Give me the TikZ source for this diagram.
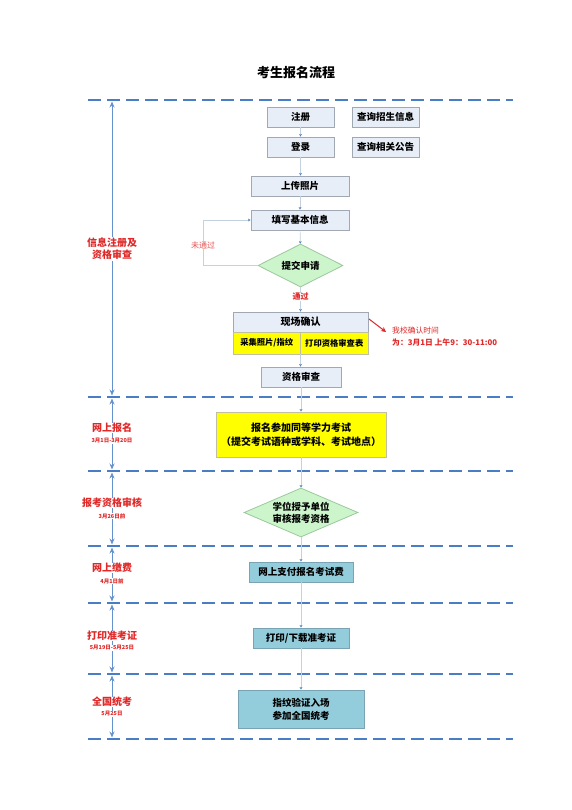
\documentclass[tikz,border=0pt]{standalone}
\usepackage{fontspec}
\setmainfont{Noto Sans CJK SC}
\usetikzlibrary{shapes.geometric,arrows.meta}
\definecolor{boxfill}{HTML}{E8EEF8}
\definecolor{boxdraw}{HTML}{A0A8B4}
\definecolor{diafill}{HTML}{CCF5CC}
\definecolor{diadraw}{HTML}{9CC89C}
\definecolor{ylw}{HTML}{FFFF00}
\definecolor{ylwdraw}{HTML}{C0C0A0}
\definecolor{teal2}{HTML}{93CDDC}
\definecolor{tealdraw}{HTML}{7AA4B4}
\definecolor{dashblue}{HTML}{4A7EC4}
\definecolor{conn}{HTML}{C4D2E0}
\definecolor{connhead}{HTML}{4F81BD}
\definecolor{redtxt}{HTML}{E02828}
\begin{document}
\begin{tikzpicture}[x=1pt,y=-1pt,
  box/.style={draw=boxdraw,fill=boxfill,line width=0.8pt,inner sep=0pt,font=\fontsize{9.5}{11}\selectfont\bfseries,align=center},
  dia/.style={diamond,draw=diadraw,fill=diafill,line width=0.8pt,inner sep=0pt,aspect=2.3,font=\fontsize{9.5}{12}\selectfont\bfseries,align=center},
  ybox/.style={draw=ylwdraw,fill=ylw,line width=0.8pt,inner sep=0pt,align=center},
  tbox/.style={draw=tealdraw,fill=teal2,line width=0.8pt,inner sep=0pt,font=\fontsize{9.5}{13}\selectfont\bfseries,align=center},
  conline/.style={draw=conn,line width=0.7pt,-{Stealth[length=2.6pt,width=2.8pt,color=connhead]}},
  sepline/.style={draw=dashblue,line width=2.2pt,dash pattern=on 13pt off 6pt},
  span/.style={draw=dashblue!85,line width=1pt,{Stealth[length=6pt,width=5pt]}-{Stealth[length=6pt,width=5pt]}},
  seclabel/.style={fill=white,inner sep=1pt,text=redtxt,font=\fontsize{10}{12}\selectfont\bfseries,align=center},
  datelabel/.style={fill=white,inner sep=0.5pt,text=redtxt,font=\fontsize{5.5}{6}\selectfont\bfseries},
]
\useasboundingbox (0,0) rectangle (572,810);
\fill[white] (0,0) rectangle (572,810);

% title
\node[font=\fontsize{13}{15}\selectfont\bfseries] (title) at (296,73) {考生报名流程};

% separator lines
\foreach \n/\y in {a/100,b/397,c/471,d/546,e/603,f/674,g/739}{
  \coordinate (L\n) at (88,\y);
  \coordinate (R\n) at (513,\y);
}
\foreach \n in {a,b,c,d,e,f,g}{ \draw[sepline] (L\n) -- (R\n); }

% spans on the left
\foreach \p/\q/\ya/\yb in {a/b/100/397,b/c/397/471,c/d/471/546,d/e/546/603,e/f/603/674,f/g/674/739}{
  \coordinate (S\p) at (112,\ya+1.5);
  \coordinate (E\p) at (112,\yb-1.5);
  \draw[span] (E\p) -- (S\p);
}

% section labels
\node[seclabel] (s1) at (112,249) {信息注册及\\资格审查};
\node[seclabel,inner sep=0.5pt] (s2) at (112,428) {网上报名};
\node[datelabel] (d2) at (112,441) {3月1日-3月20日};
\node[seclabel,inner sep=0.5pt] (s3) at (112,503) {报考资格审核};
\node[datelabel] (d3) at (112,516) {3月26日前};
\node[seclabel,inner sep=0.5pt] (s4) at (112,568) {网上缴费};
\node[datelabel] (d4) at (112,581) {4月1日前};
\node[seclabel,inner sep=0.5pt] (s5) at (112,636) {打印准考证};
\node[datelabel] (d5) at (112,648) {5月19日-5月25日};
\node[seclabel,inner sep=0.5pt] (s6) at (112,702) {全国统考};
\node[datelabel] (d6) at (112,714) {5月25日};

% boxes
\node[box,minimum width=67pt,minimum height=20pt] (zc) at (300.5,117) {注册};
\node[box,minimum width=67pt,minimum height=20pt] (cx1) at (385.5,117) {查询招生信息};
\node[box,minimum width=67pt,minimum height=20pt] (dl) at (300.5,147) {登录};
\node[box,minimum width=67pt,minimum height=20pt] (cx2) at (385.5,147) {查询相关公告};
\node[box,minimum width=98pt,minimum height=20pt] (sc) at (300,186) {上传照片};
\node[box,minimum width=98pt,minimum height=20pt] (tx) at (300,220) {填写基本信息};
\node[dia,minimum width=85pt,minimum height=43pt] (tj) at (300.5,265.5) {提交申请};

\node[box,minimum width=135pt,minimum height=20pt,font=\fontsize{10}{12}\selectfont\bfseries] (xc) at (300.5,322) {现场确认};
\node[ybox,minimum width=67.5pt,minimum height=22pt,font=\fontsize{8.3}{10}\selectfont\bfseries] (cj) at (266.75,343) {采集照片/指纹};
\node[ybox,minimum width=67.5pt,minimum height=22pt,font=\fontsize{8.3}{10}\selectfont\bfseries] (dyb) at (334.25,343) {打印资格审查表};
\node[box,minimum width=80pt,minimum height=20pt] (zs) at (301,377) {资格审查};

\node[ybox,minimum width=170pt,minimum height=45pt,font=\fontsize{10}{14}\selectfont\bfseries] (bm) at (301,434.5) {报名参加同等学力考试\\（提交考试语种或学科、考试地点）};
\node[dia,minimum width=114pt,minimum height=49pt] (xw) at (301,512.5) {学位授予单位\\审核报考资格};
\node[tbox,minimum width=104pt,minimum height=20pt] (jf) at (301,572) {网上支付报名考试费};
\node[tbox,minimum width=96pt,minimum height=20pt] (dy) at (301,638) {打印/下载准考证};
\node[tbox,minimum width=126pt,minimum height=38pt] (qg) at (301,709) {指纹验证入场\\参加全国统考};

% connectors
\draw[conline] (zc) -- (dl);
\draw[conline] (dl.south) -- (sc.north -| dl.south);
\draw[conline] (sc) -- (tx);
\draw[conline] (tx) -- (tj);
\coordinate (gb) at (300.5,354);
\draw[conline] (tj.south) -- (xc.north);
\draw[conline] (gb) -- (zs.north -| gb);
\draw[conline] (zs.south -| bm.north) -- (bm.north);
\draw[conline] (bm) -- (xw);
\draw[conline] (xw) -- (jf);
\draw[conline] (jf) -- (dy);
\draw[conline] (dy) -- (qg);
\coordinate (lp) at (203,265.5);
\draw[conline] (tj.west) -- (lp) |- (tx.west);

\node[fill=white,inner sep=0.5pt,text=redtxt!80,font=\fontsize{8}{9}\selectfont] (wtg) at (203,245) {未通过};
\node[fill=white,inner sep=0.5pt,text=redtxt,font=\fontsize{8}{9}\selectfont\bfseries] (tg) at (300.5,297) {通过};

% note
\coordinate (na) at (369,319);
\coordinate (nb) at (386,332);
\draw[redtxt,line width=1pt,-{Stealth[length=5pt,width=5pt]}] (na) -- (nb);
\node[anchor=west,inner sep=0pt,text=redtxt,font=\fontsize{7.8}{9}\selectfont] (n1) at (392,331) {我校确认时间};
\node[anchor=west,inner sep=0pt,text=redtxt,font=\fontsize{7.8}{9}\selectfont\bfseries] (n2) at (392,343) {为：3月1日 上午9：30-11:00};
\end{tikzpicture}
\end{document}
